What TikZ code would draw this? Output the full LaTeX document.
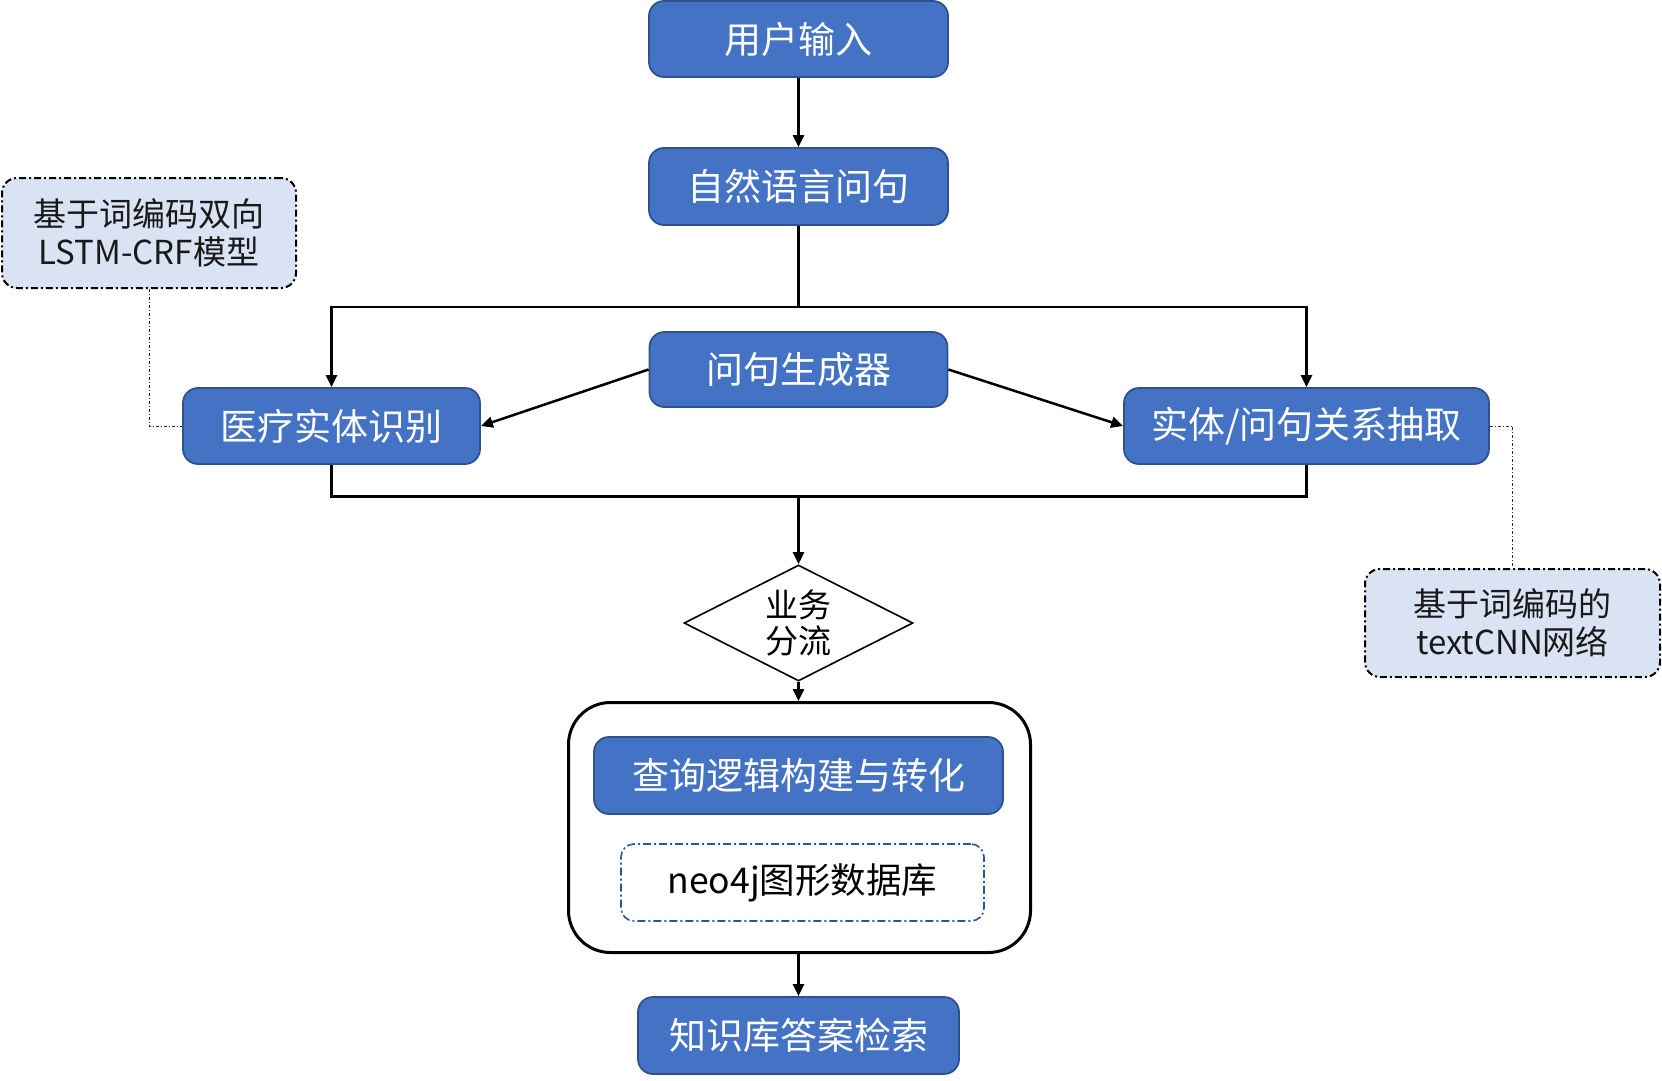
\documentclass[tikz,border=0pt]{standalone}
\usepackage{fontspec}
\setmainfont{Noto Sans CJK SC}
\usetikzlibrary{arrows.meta,shapes.geometric}
\definecolor{boxblue}{HTML}{4472C4}
\definecolor{boxedge}{HTML}{2F528F}
\definecolor{notefill}{HTML}{DAE3F3}
\definecolor{dbblue}{HTML}{2F5597}
\tikzset{
  bluebox/.style={draw=boxedge, line width=1.8pt, fill=boxblue, rounded corners=15pt,
    text=white, font=\fontsize{37}{44}\selectfont, inner sep=0pt, anchor=center},
  notebox/.style={draw=black, line width=2pt, fill=notefill, rounded corners=15pt,
    dash pattern=on 7pt off 3pt on 2pt off 3pt, text=black!90,
    font=\fontsize{33}{38}\selectfont, align=center, inner sep=0pt},
  arr/.style={line width=2.5pt, -{Triangle[length=12pt,width=11pt]}},
  plain/.style={line width=2.5pt},
  thinlink/.style={line width=1pt, black!85, dash pattern=on 3pt off 2pt on 1pt off 2pt},
}
\begin{document}
\begin{tikzpicture}[x=1pt,y=-1pt]
\useasboundingbox (0,0) rectangle (1662,1081);

% main boxes
\node[bluebox, minimum width=299pt, minimum height=76pt] (in) at (798.5,39) {用户输入};
\node[bluebox, minimum width=299pt, minimum height=77pt] (nl) at (798.5,186.5) {自然语言问句};
\node[bluebox, minimum width=298pt, minimum height=75pt] (gen) at (798.5,369.5) {问句生成器};
\node[bluebox, minimum width=297pt, minimum height=76pt] (ner) at (331.5,426) {医疗实体识别};
\node[bluebox, minimum width=365pt, minimum height=76pt] (rel) at (1306.5,426) {实体/问句关系抽取};

% decision
\node[draw=black, line width=1.6pt, shape=diamond, aspect=1.97, inner sep=0pt,
  minimum width=229pt, minimum height=116pt, align=center,
  font=\fontsize{33}{36}\selectfont] (dia) at (798.5,623) {业务\\分流};

% container
\node[draw=black, line width=3pt, rounded corners=42pt, minimum width=462pt,
  minimum height=250pt, inner sep=0pt] (outer) at (799.5,827.5) {};
\node[bluebox, minimum width=409pt, minimum height=77pt] (q) at (798.5,775.5) {查询逻辑构建与转化};
\node[draw=dbblue, line width=1.6pt, rounded corners=13pt,
  dash pattern=on 8pt off 3pt on 2pt off 3pt, minimum width=363pt, minimum height=77pt,
  inner sep=0pt, font=\fontsize{35.5}{40}\selectfont] (neo) at (802.5,882.5) {neo4j图形数据库};

\node[bluebox, minimum width=321pt, minimum height=77pt] (ans) at (798.5,1035.5) {知识库答案检索};

% notes
\node[notebox, minimum width=294pt, minimum height=110pt] (noteL) at (149,233) {基于词编码双向\\LSTM-CRF模型};
\node[notebox, minimum width=295pt, minimum height=108pt] (noteR) at (1512.5,623) {基于词编码的\\textCNN网络};

% junction coordinates
\coordinate (j1) at (798.5,307);
\coordinate (j2) at (798.5,496.5);

% connectors
\draw[arr] (in) -- (nl);
\draw[plain] (nl.south) -- (j1);
\draw[arr] (j1) -| (ner.north);
\draw[arr] (j1) -| (rel.north);
\draw[arr] (gen.west) -- (ner.east);
\draw[arr] (gen.east) -- (rel.west);
\draw[plain] (ner.south) |- (j2) -| (rel.south);
\draw[arr] (j2) -- (dia.north);
\draw[arr] (dia.south) -- (dia.south |- outer.north);
\draw[arr] (ans.north |- outer.south) -- (ans.north);

% dotted links to notes
\draw[thinlink] (noteL.south) |- (ner.west);
\draw[thinlink] (rel.east) -| (noteR.north);
\end{tikzpicture}
\end{document}
